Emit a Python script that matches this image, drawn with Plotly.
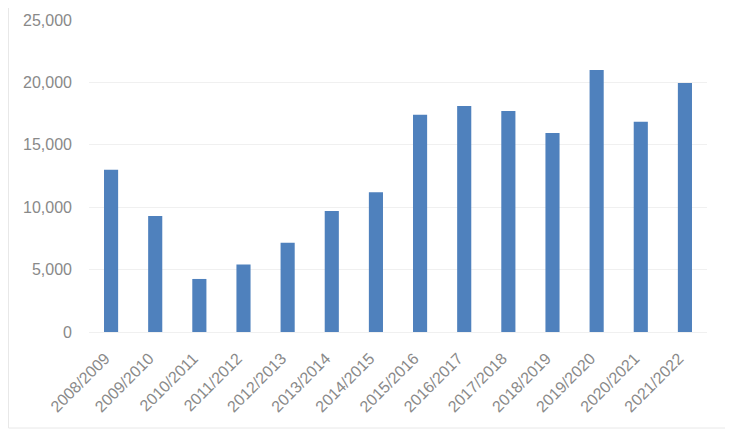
import plotly.graph_objects as go

categories = ["2008/2009", "2009/2010", "2010/2011", "2011/2012", "2012/2013", "2013/2014",
              "2014/2015", "2015/2016", "2016/2017", "2017/2018", "2018/2019", "2019/2020",
              "2020/2021", "2021/2022"]
values = [13000, 9300, 4250, 5400, 7150, 9700, 11200, 17400, 18100, 17700, 15950, 21000, 16850, 19950]
y_ticks = [0, 5000, 10000, 15000, 20000, 25000]

fig = go.Figure(go.Bar(x=categories, y=values, marker=dict(color="#4f81bd", line=dict(width=0)), width=0.32))

# page body has an 8px default margin, so the figure is drawn 8px smaller and offset
W, H = 725, 423
ml, mr, mt, mb = 81, 26, 12, 99
pw, ph = W - ml - mr, H - mt - mb

fig.update_layout(
    width=W, height=H,
    margin=dict(l=ml, r=mr, t=mt, b=mb, pad=0, autoexpand=False),
    paper_bgcolor="white", plot_bgcolor="white",
    font=dict(family="Liberation Sans, Arial, sans-serif", size=16, color="#898989"),
    showlegend=False,
    bargap=0.68,
)
fig.update_xaxes(type="category", tickangle=-45, showgrid=False, ticks="", showline=False,
                 automargin=False, ticklabelstandoff=13, ticklabelshift=-6,
                 tickfont=dict(size=16, color="#898989"))
fig.update_yaxes(range=[0, 25000], tickvals=y_ticks, tickformat=",d", showgrid=True,
                 gridcolor="#f0f0f0", gridwidth=1, zeroline=True, zerolinecolor="#f0f0f0",
                 zerolinewidth=1, ticks="", showline=False, ticklabelstandoff=16,
                 automargin=False, tickfont=dict(size=16, color="#898989"))

# outer chart border
x0 = (0.5 - ml) / pw
x1 = (720 - ml) / pw
y0 = (H - mb - 420) / ph
y1 = (H - mb + 5) / ph
fig.add_shape(type="rect", xref="paper", yref="paper", x0=x0, x1=x1, y0=y0, y1=y1,
              line=dict(color="#e8e8e8", width=1), layer="below")

fig.write_html("out.html")
